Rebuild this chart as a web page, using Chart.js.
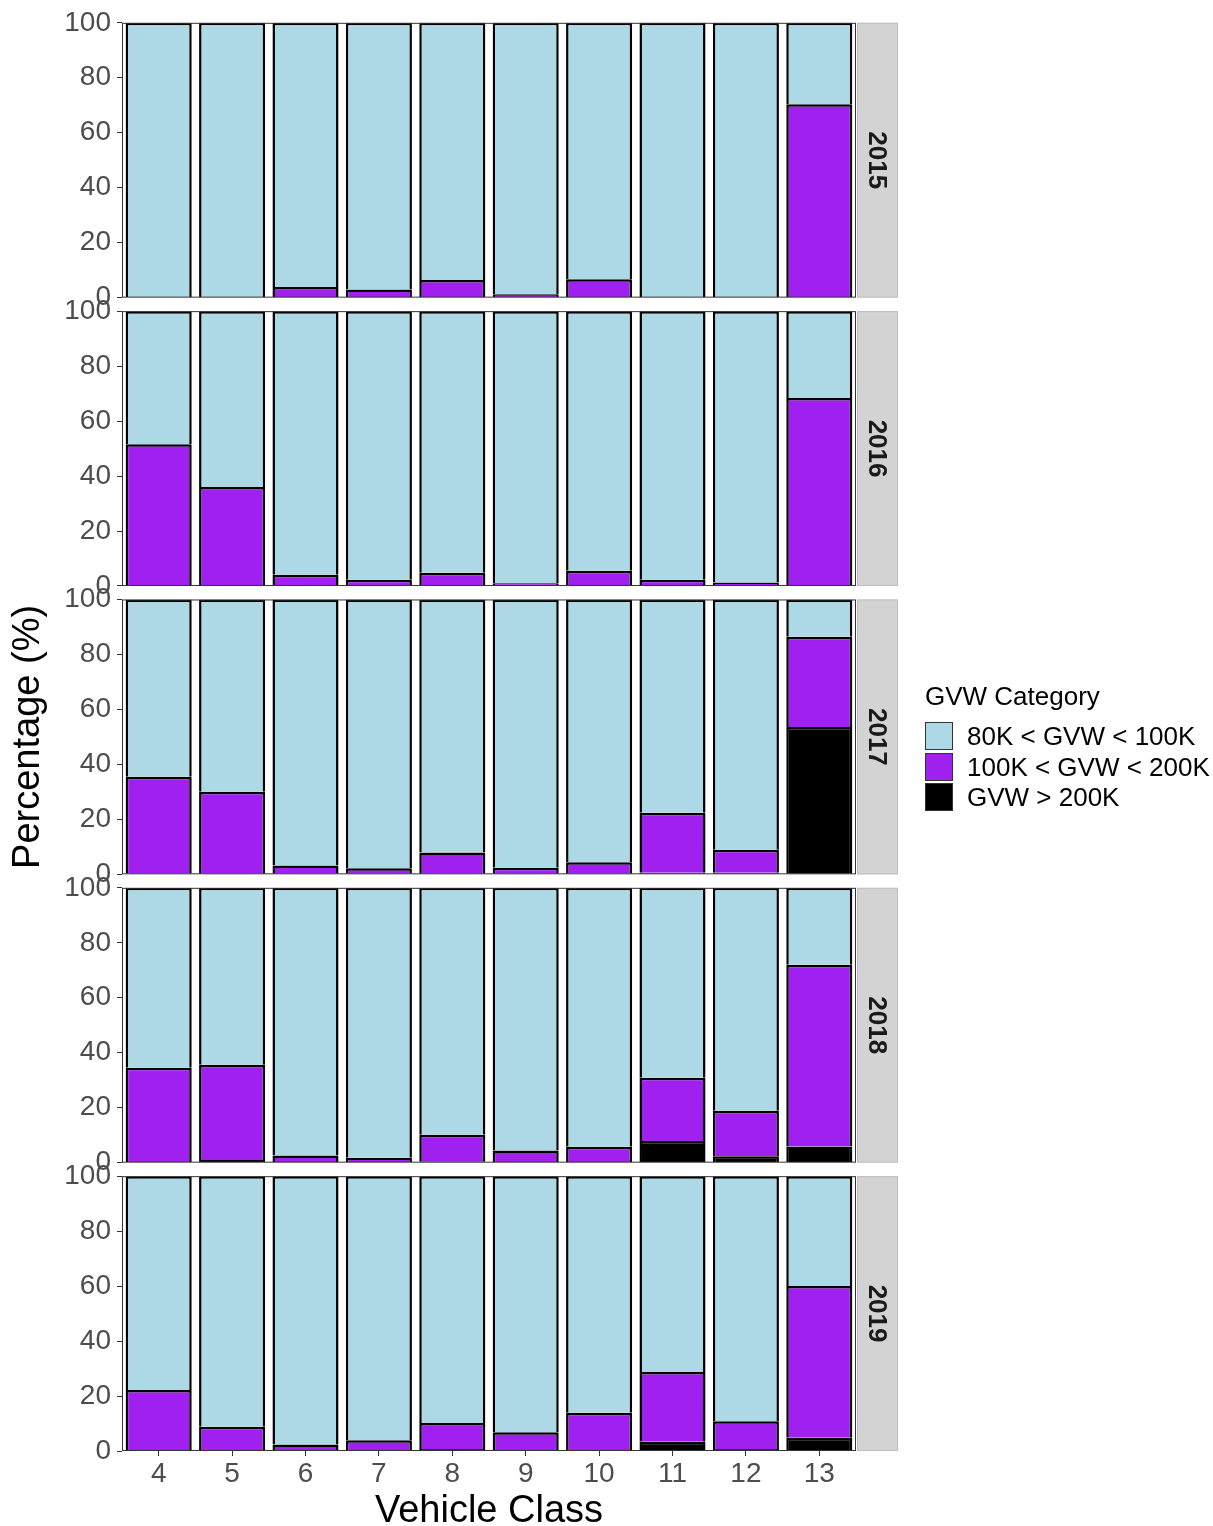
<!DOCTYPE html>
<html>
<head>
<meta charset="utf-8">
<script src="https://cdn.jsdelivr.net/npm/chart.js@4.4.1/dist/chart.umd.min.js"></script>
<style>
html,body{margin:0;padding:0;background:#ffffff;}
#wrap{position:relative;width:1213px;height:1526px;overflow:hidden;}
#c{position:absolute;left:0;top:0;}
#legend{position:absolute;left:925px;top:682px;font-family:'Liberation Sans',Arial,sans-serif;color:#000;}
#legend .title{font-size:26px;line-height:28px;height:28px;margin-bottom:11px;white-space:nowrap;}
#legend .row{display:flex;align-items:center;height:30.5px;white-space:nowrap;}
#legend .key{width:28px;height:28px;box-sizing:border-box;border:1.5px solid #333;margin-right:14px;}
#legend .lab{font-size:26px;line-height:28px;}
</style>
</head>
<body>
<div id="wrap">
<canvas id="c" width="1213" height="1526"></canvas>
<div id="legend"></div>
</div>
<script>
// ---------------- data ----------------
const classes = ['4','5','6','7','8','9','10','11','12','13'];
const years = ['2015','2016','2017','2018','2019'];
const categories = ['80K < GVW < 100K', '100K < GVW < 200K', 'GVW > 200K'];
const yTicks = [0, 20, 40, 60, 80, 100];

// GVW > 200K (bottom segment)
const heavy2015 = [0, 0, 0, 0, 0, 0, 0, 0, 0, 0];
const heavy2016 = [0, 0, 0, 0, 0, 0, 0, 0, 0, 0];
const heavy2017 = [0, 0, 0, 0, 0, 0, 0, 0.6, 0.6, 53.6];
const heavy2018 = [0, 1.0, 0, 0, 0.5, 0, 0, 7.9, 2.3, 5.9];
const heavy2019 = [0, 0, 0, 0, 0.7, 0, 0, 3.4, 0.7, 4.8];

// 100K < GVW < 200K (middle segment)
const mid2015 = [0, 0, 3.9, 3.0, 6.4, 1.2, 6.7, 0, 0, 70.4];
const mid2016 = [51.6, 36.0, 4.1, 2.3, 4.8, 1.0, 5.5, 2.3, 1.3, 68.4];
const mid2017 = [35.5, 30.0, 3.2, 2.2, 7.9, 2.4, 4.4, 21.8, 8.3, 32.8];
const mid2018 = [34.5, 34.6, 2.6, 1.8, 9.7, 4.4, 5.8, 23.0, 16.6, 66.1];
const mid2019 = [22.2, 8.8, 2.4, 3.9, 9.5, 6.8, 13.9, 25.3, 10.1, 55.2];

// 80K < GVW < 100K (top segment)
const low2015 = [100, 100, 96.1, 97.0, 93.6, 98.8, 93.3, 100, 100, 29.6];
const low2016 = [48.4, 64.0, 95.9, 97.7, 95.2, 99.0, 94.5, 97.7, 98.7, 31.6];
const low2017 = [64.5, 70.0, 96.8, 97.8, 92.1, 97.6, 95.6, 77.6, 91.1, 13.6];
const low2018 = [65.5, 64.4, 97.4, 98.2, 89.8, 95.6, 94.2, 69.1, 81.1, 28.0];
const low2019 = [77.8, 91.2, 97.6, 96.1, 89.8, 93.2, 86.1, 71.3, 89.2, 40.0];

// ---------------- styles ----------------
const colLow = '#ADD8E6';
const colMid = '#A020F0';
const colHeavy = '#000000';
const FONT = "'Liberation Sans', Arial, Helvetica, sans-serif";

const lowByYear = {2015: low2015, 2016: low2016, 2017: low2017, 2018: low2018, 2019: low2019};
const midByYear = {2015: mid2015, 2016: mid2016, 2017: mid2017, 2018: mid2018, 2019: mid2019};
const heavyByYear = {2015: heavy2015, 2016: heavy2016, 2017: heavy2017, 2018: heavy2018, 2019: heavy2019};

Chart.defaults.font.family = FONT;

const datasets = [];
years.forEach(y => {
  const common = {yAxisID: 'y' + y, stack: 'all', borderColor: '#000000', borderWidth: 2.5,
                  barPercentage: 0.9, categoryPercentage: 1.0};
  datasets.push(Object.assign({label: categories[2], data: heavyByYear[y], backgroundColor: colHeavy}, common));
  datasets.push(Object.assign({label: categories[1], data: midByYear[y], backgroundColor: colMid}, common));
  datasets.push(Object.assign({label: categories[0], data: lowByYear[y], backgroundColor: colLow}, common));
});

const panelH = 275, gapH = 13.5;
const scales = {
  x: {
    type: 'category', labels: classes, offset: true, stacked: true,
    grid: {display: true, offset: false, drawOnChartArea: false, drawTicks: true, tickLength: 5, color: '#333333', lineWidth: 1},
    border: {display: false},
    ticks: {font: {size: 28}, color: '#4D4D4D', padding: 1, autoSkip: false, maxRotation: 0},
    title: {display: true, text: 'Vehicle Class', font: {size: 38, lineHeight: 1}, color: '#000000', padding: {top: 0, bottom: -5}},
    afterFit: s => { s.height = 75; }
  }
};
let w = 2 * years.length;
years.forEach((y, i) => {
  scales['y' + y] = {
    type: 'linear', position: 'left', stack: 'panels', stackWeight: 1, weight: w--,
    min: 0, max: 100, stacked: true,
    afterBuildTicks: s => { s.ticks = yTicks.map(v => ({value: v})); },
    grid: {display: true, drawOnChartArea: false, drawTicks: true, tickLength: 5, color: '#333333', lineWidth: 1},
    border: {display: false},
    ticks: {font: {size: 28}, color: '#4D4D4D', padding: 6, autoSkip: false},
    title: {display: y === '2017', text: 'Percentage (%)', font: {size: 38, lineHeight: 1}, color: '#000000', padding: {top: 10, bottom: 0}},
    afterFit: s => { s.width = 122; }
  };
  if (i < years.length - 1) {
    scales['gap' + i] = {
      type: 'linear', position: 'left', stack: 'panels', stackWeight: gapH / panelH, weight: w--,
      display: false
    };
  }
});

const panelPlugin = {
  id: 'panels',
  afterDatasetsDraw(chart) {
    const ctx = chart.ctx, ca = chart.chartArea;
    ctx.save();
    ctx.strokeStyle = '#333333';
    ctx.lineWidth = 1;
    years.forEach(y => {
      const s = chart.scales['y' + y];
      ctx.strokeRect(ca.left + 0.5, s.top + 0.5, ca.right - ca.left - 1, s.bottom - s.top - 1);
    });
    ctx.restore();
  },
  afterDraw(chart) {
    const ctx = chart.ctx, ca = chart.chartArea;
    ctx.save();
    years.forEach(y => {
      const s = chart.scales['y' + y];
      const x0 = ca.right + 1, sw = 41;
      ctx.fillStyle = '#D3D3D3';
      ctx.fillRect(x0, s.top, sw, s.bottom - s.top);
      ctx.strokeStyle = '#BEBEBE';
      ctx.lineWidth = 1;
      ctx.strokeRect(x0 + 0.5, s.top + 0.5, sw - 1, s.bottom - s.top - 1);
      ctx.translate(x0 + sw / 2, (s.top + s.bottom) / 2);
      ctx.rotate(Math.PI / 2);
      ctx.fillStyle = '#1A1A1A';
      ctx.font = 'bold 26px ' + FONT;
      ctx.textAlign = 'center';
      ctx.textBaseline = 'middle';
      ctx.fillText(y, 0, 1);
      ctx.setTransform(1, 0, 0, 1, 0, 0);
    });
    ctx.restore();
  }
};

new Chart(document.getElementById('c'), {
  type: 'bar',
  data: {labels: classes, datasets: datasets},
  options: {
    responsive: false,
    animation: false,
    devicePixelRatio: 1,
    layout: {padding: {top: 22, left: 0, right: 357, bottom: 0}},
    plugins: {legend: {display: false}, tooltip: {enabled: false}},
    scales: scales
  },
  plugins: [panelPlugin]
});

// ---------------- legend (HTML) ----------------
const legendColors = [colLow, colMid, colHeavy];
const leg = document.getElementById('legend');
const t = document.createElement('div');
t.className = 'title';
t.textContent = 'GVW Category';
leg.appendChild(t);
categories.forEach((c, i) => {
  const r = document.createElement('div'); r.className = 'row';
  const k = document.createElement('div'); k.className = 'key'; k.style.background = legendColors[i];
  const l = document.createElement('div'); l.className = 'lab'; l.textContent = c;
  r.appendChild(k); r.appendChild(l); leg.appendChild(r);
});
</script>
</body>
</html>
